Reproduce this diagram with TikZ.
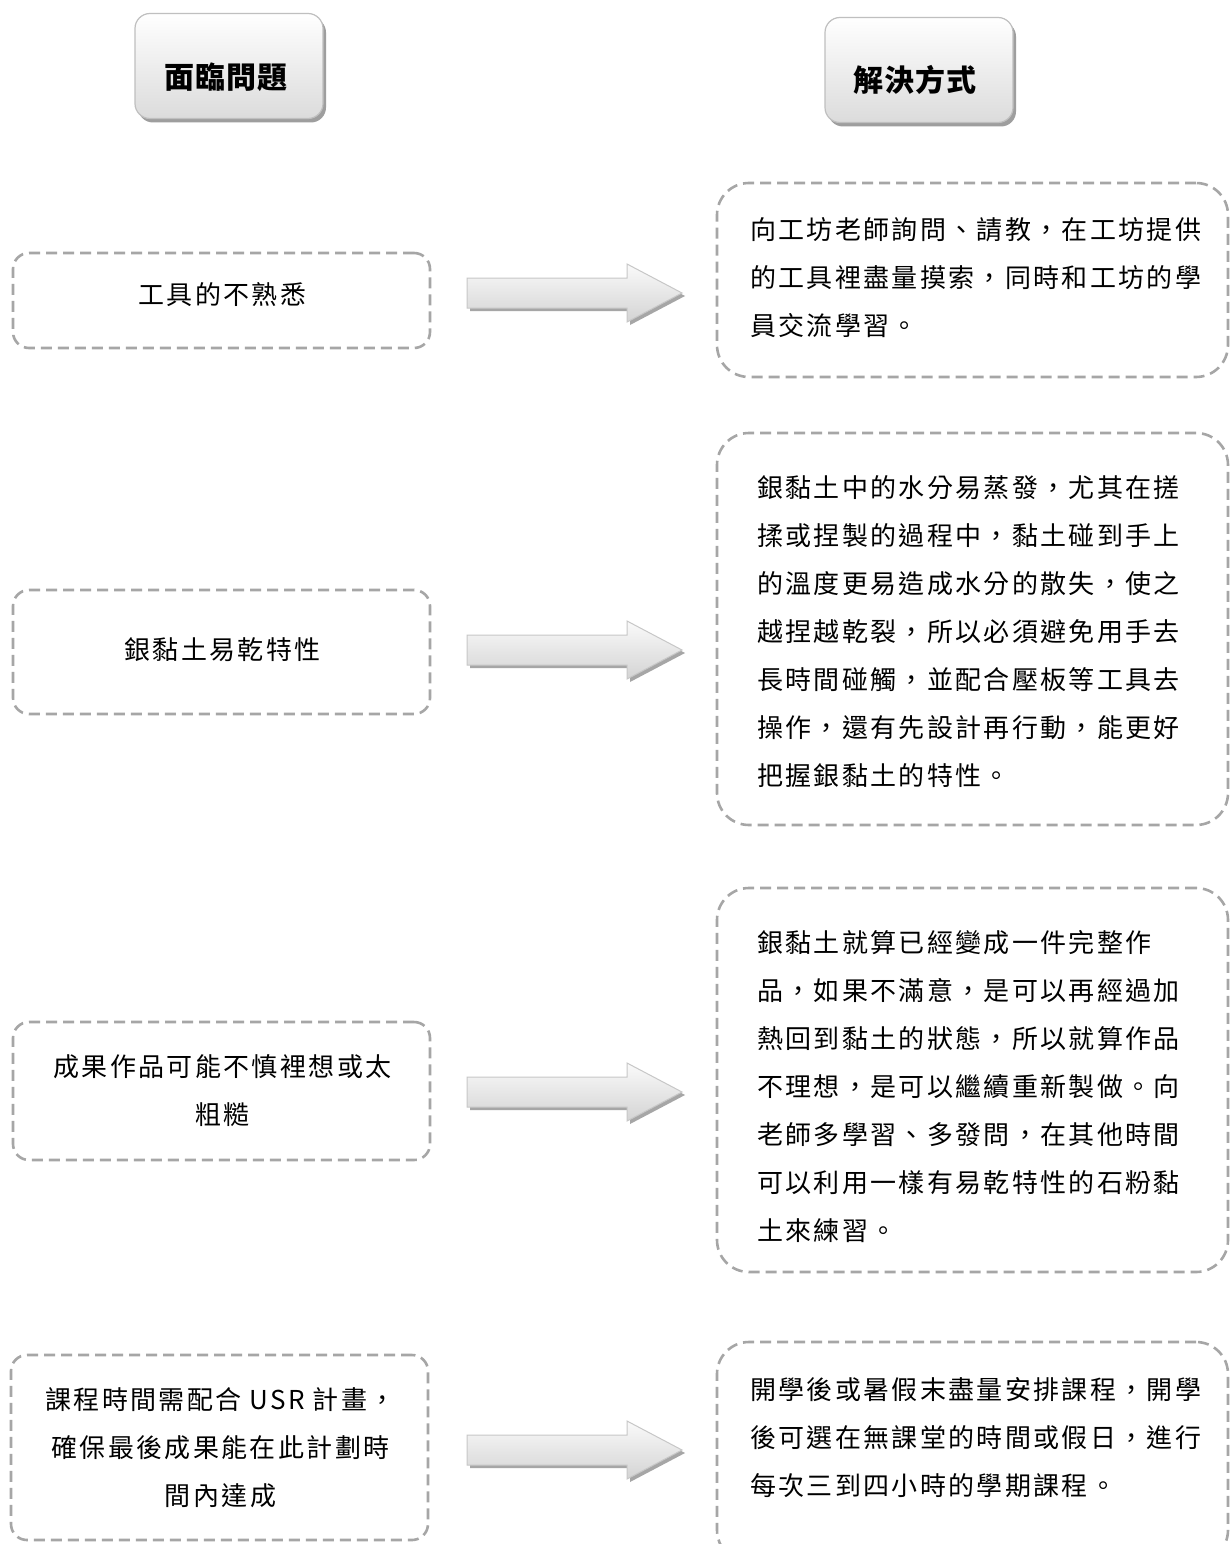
\documentclass[tikz,border=0pt]{standalone}
\usepackage{fontspec}
\newfontfamily\cjk[LetterSpace=9]{Noto Sans CJK TC}
\newfontfamily\cjkb[LetterSpace=3]{Noto Sans CJK TC}
\usetikzlibrary{shadows}
\tikzset{
  headbox/.style={draw=black!25, line width=1.2pt, rounded corners=15pt,
    top color=white, bottom color=black!14, minimum width=188pt, minimum height=105pt,
    drop shadow={shadow xshift=3pt, shadow yshift=-4pt, fill=black!38, opacity=1}},
  headtext/.style={font=\cjkb\bfseries\fontsize{30}{36}\selectfont, inner sep=0pt},
  dbox/.style={draw=black!35, line width=2.6pt, dash pattern=on 11pt off 6pt},
  lbox/.style={dbox, rounded corners=16pt, minimum width=417pt},
  rbox/.style={dbox, rounded corners=32pt, minimum width=511pt},
  ltext/.style={font=\cjk\fontsize{26}{48}\selectfont, align=center, inner sep=0pt},
  rtext/.style={font=\cjk\fontsize{26}{48}\selectfont, align=left, inner sep=0pt, anchor=west},
  barrow/.pic={
    \fill[black!35] (3,-12) -- (163,-12) -- (163,-26) -- (218,3) -- (163,32) -- (163,18) -- (3,18) -- cycle;
    \draw[draw=black!22, line width=1pt, top color=black!2, bottom color=black!17]
      (0,-15) -- (160,-15) -- (160,-29) -- (215,0) -- (160,29) -- (160,15) -- (0,15) -- cycle;
  }
}
\begin{document}
\begin{tikzpicture}[x=1pt,y=-1pt]
\clip (0,0) rectangle (1230,1544);
\fill[white] (0,0) rectangle (1230,1544);

% headers
\node[headbox] (h1) at (229,66) {};
\node[headtext] (h1t) at (226,77) {面臨問題};
\node[headbox] (h2) at (919,70) {};
\node[headtext] (h2t) at (915,80) {解決方式};

% left boxes
\node[lbox, minimum height=95pt] (lb1) at (221.5,300.5) {};
\node[ltext] (lt1) at (222.5,295) {工具的不熟悉};
\node[lbox, minimum height=124pt] (lb2) at (221.5,652) {};
\node[ltext] (lt2) at (222.5,650) {銀黏土易乾特性};
\node[lbox, minimum height=138pt] (lb3) at (221.5,1091) {};
\node[ltext] (lt3) at (222.5,1091) {成果作品可能不慎裡想或太\\粗糙};
\node[lbox, minimum height=185pt] (lb4) at (219.5,1447.5) {};
\node[ltext] (lt4) at (220.5,1448) {課程時間需配合 USR 計畫，\\確保最後成果能在此計劃時\\間內達成};

% arrows
\pic (ar1) at (467,293) {barrow};
\pic (ar2) at (467,650) {barrow};
\pic (ar3) at (467,1092) {barrow};
\pic (ar4) at (467,1450) {barrow};

% right boxes
\node[rbox, minimum height=194pt] (rb1) at (972.5,280) {};
\node[rtext] (rt1) at (750,278) {向工坊老師詢問、請教，在工坊提供\\的工具裡盡量摸索，同時和工坊的學\\員交流學習。};
\node[rbox, minimum height=392pt] (rb2) at (972.5,629) {};
\node[rtext] (rt2) at (757,632) {銀黏土中的水分易蒸發，尤其在搓\\揉或捏製的過程中，黏土碰到手上\\的溫度更易造成水分的散失，使之\\越捏越乾裂，所以必須避免用手去\\長時間碰觸，並配合壓板等工具去\\操作，還有先設計再行動，能更好\\把握銀黏土的特性。};
\node[rbox, minimum height=384pt] (rb3) at (972.5,1080) {};
\node[rtext] (rt3) at (757,1087) {銀黏土就算已經變成一件完整作\\品，如果不滿意，是可以再經過加\\熱回到黏土的狀態，所以就算作品\\不理想，是可以繼續重新製做。向\\老師多學習、多發問，在其他時間\\可以利用一樣有易乾特性的石粉黏\\土來練習。};
\node[rbox, minimum height=220pt] (rb4) at (972.5,1452) {};
\node[rtext] (rt4) at (750,1438) {開學後或暑假末盡量安排課程，開學\\後可選在無課堂的時間或假日，進行\\每次三到四小時的學期課程。};
\end{tikzpicture}
\end{document}
